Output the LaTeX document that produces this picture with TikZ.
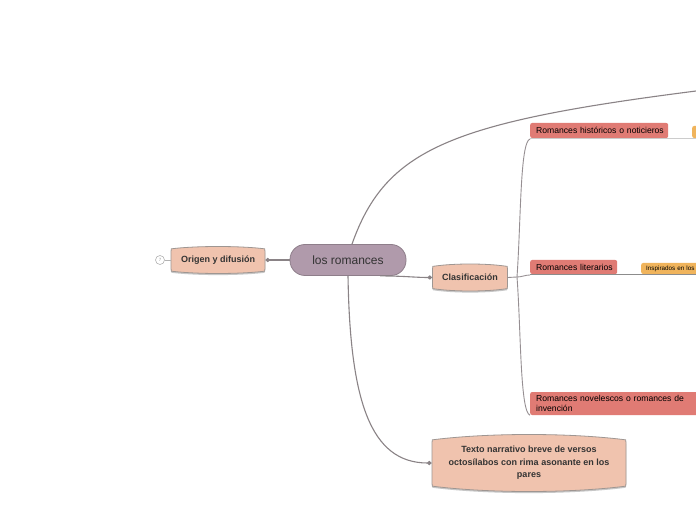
\documentclass[tikz,border=0pt]{standalone}
\usepackage{fontspec}
\setmainfont{Liberation Sans}
\usetikzlibrary{arrows.meta}
\definecolor{mauve}{HTML}{B09AAB}
\definecolor{mauveb}{HTML}{8E7E8A}
\definecolor{peach}{HTML}{F0C3AE}
\definecolor{peachb}{HTML}{9E9692}
\definecolor{redn}{HTML}{E07B74}
\definecolor{orangen}{HTML}{F0B45C}
\definecolor{linec}{HTML}{8A8386}
\definecolor{txt}{HTML}{333333}
\tikzset{
  conn/.style={draw=linec, line width=1.1pt},
  dotconn/.style={conn, -{Diamond[length=5pt,width=4.5pt]}},
  branch/.style={draw=linec!90, line width=0.9pt},
  uline/.style={draw=#1, line width=1pt},
  redbox/.style={fill=redn, rounded corners=2pt, inner xsep=6pt, inner ysep=0pt,
     align=left, font=\fontsize{8.6}{10}\selectfont, text=black, anchor=west},
  orbox/.style={fill=orangen, rounded corners=2pt, inner xsep=5pt, inner ysep=0pt,
     align=left, font=\fontsize{6.3}{7}\selectfont, text=black, anchor=west},
  bulgefill/.style={fill=peach, draw=peachb, line width=0.8pt},
  bulgeshadow/.style={fill=black!22, draw=none},
  boldlabel/.style={font=\bfseries\fontsize{9}{12.5}\selectfont, text=txt, align=center}
}
% #1 name, #2 cx, #3 cy, #4 w, #5 h, #6 bulge, #7 text
\newcommand\bulgenode[7]{%
  \pgfmathsetmacro\bxl{#2-#4/2}\pgfmathsetmacro\bxr{#2+#4/2}%
  \pgfmathsetmacro\byt{#3+#5/2}\pgfmathsetmacro\byb{#3-#5/2}%
  \pgfmathsetmacro\bytc{\byt-#6}\pgfmathsetmacro\bybc{\byb+#6}%
  \pgfmathsetmacro\bytk{\byt+#6/3}\pgfmathsetmacro\bybk{\byb-#6/3}%
  \pgfmathsetmacro\bxa{\bxl+0.3*#4}\pgfmathsetmacro\bxb{\bxr-0.3*#4}%
  \foreach \sh/\st in {-1.6/bulgeshadow,0/bulgefill}{
  \path[\st, yshift=\sh] (\bxl,\bytc-3) .. controls (\bxl,\bytc) .. (\bxl+3,\bytc)
     .. controls (\bxa,\bytk) and (\bxb,\bytk) .. (\bxr-3,\bytc)
     .. controls (\bxr,\bytc) .. (\bxr,\bytc-3) -- (\bxr,\bybc+3)
     .. controls (\bxr,\bybc) .. (\bxr-3,\bybc)
     .. controls (\bxb,\bybk) and (\bxa,\bybk) .. (\bxl+3,\bybc)
     .. controls (\bxl,\bybc) .. (\bxl,\bybc+3) -- cycle;}
  \node[boldlabel, minimum width=#4pt, minimum height=#5pt, inner sep=0pt] (#1) at (#2,#3) {#7};%
}
\begin{document}
\begin{tikzpicture}[x=1pt,y=1pt]
\path[use as bounding box, clip] (0,0) rectangle (696,520);
\fill[white] (0,0) rectangle (696,520);

\coordinate (topend) at (700,429.5);
% central node
\node[fill=mauve, draw=mauveb, line width=0.8pt, rounded corners=15pt,
      minimum width=116pt, minimum height=31pt, inner sep=0pt,
      font=\fontsize{12}{14}\selectfont, text=txt] (c) at (348,260) {los romances};

% peach nodes
\bulgenode{orig}{218}{260}{94}{27}{2}{Origen y difusión}
\bulgenode{clas}{470}{242.5}{75}{27}{2}{Clasificación}
\bulgenode{texto}{529}{57}{194}{57}{5}{\parbox{180pt}{\centering Texto narrativo breve de versos\\ octosílabos con rima asonante en los\\ pares}}

% collapse circle
\node[circle, draw=black!30, fill=white, line width=0.6pt, minimum size=9pt, inner sep=0pt,
      font=\fontsize{4.5}{5}\selectfont, text=black!40] (cnt) at (160,260) {7};
\draw[draw=black!30, line width=0.6pt] (cnt.east) -- (orig.west);

% connectors from central
\draw[conn] ([xshift=4pt]c.north) .. controls (386,372) and (452,398) .. (topend);
\draw[dotconn] (c.west) -- (orig.east);
\draw[dotconn] ([xshift=32pt]c.south) .. controls (405,244) and (415,242.5) .. (clas.west);
\draw[dotconn] (c.south) .. controls (350,120) and (370,57) .. (texto.west);

% red nodes
\node[redbox, text width=126pt, minimum height=15pt] (hist) at (530,389.5) {\mbox{Romances históricos o noticieros}};
\node[redbox, text width=75pt, minimum height=14pt] (lit) at (530,253) {\mbox{Romances literarios}};
\node[redbox, text width=160pt, minimum height=23pt] (nov) at (530,116.5) {Romances novelescos o romances de\\invención};

% orange nodes
\node[orbox, text width=60pt, minimum height=12pt] (hist2) at (692,388) {};
\node[orbox, text width=60pt, minimum height=11pt] (insp) at (641,251.5) {Inspirados en los};

% underlines
\coordinate (hu) at (530,381);
\coordinate (lu) at (530,245);
\draw[uline=black!20] (hu) -- (702,381);
\draw[uline=black!45] (lu) -- (702,245);

% branches from Clasificación
\coordinate (br) at (517,243);
\draw[branch] (clas.east) -- (br);
\draw[branch] (br) .. controls (521,300) and (520,378) .. (hu);
\draw[branch] (br) .. controls (522,243) and (525,245) .. (lu);
\draw[branch] (br) .. controls (521,190) and (520,108) .. (nov.south west);
\end{tikzpicture}
\end{document}
